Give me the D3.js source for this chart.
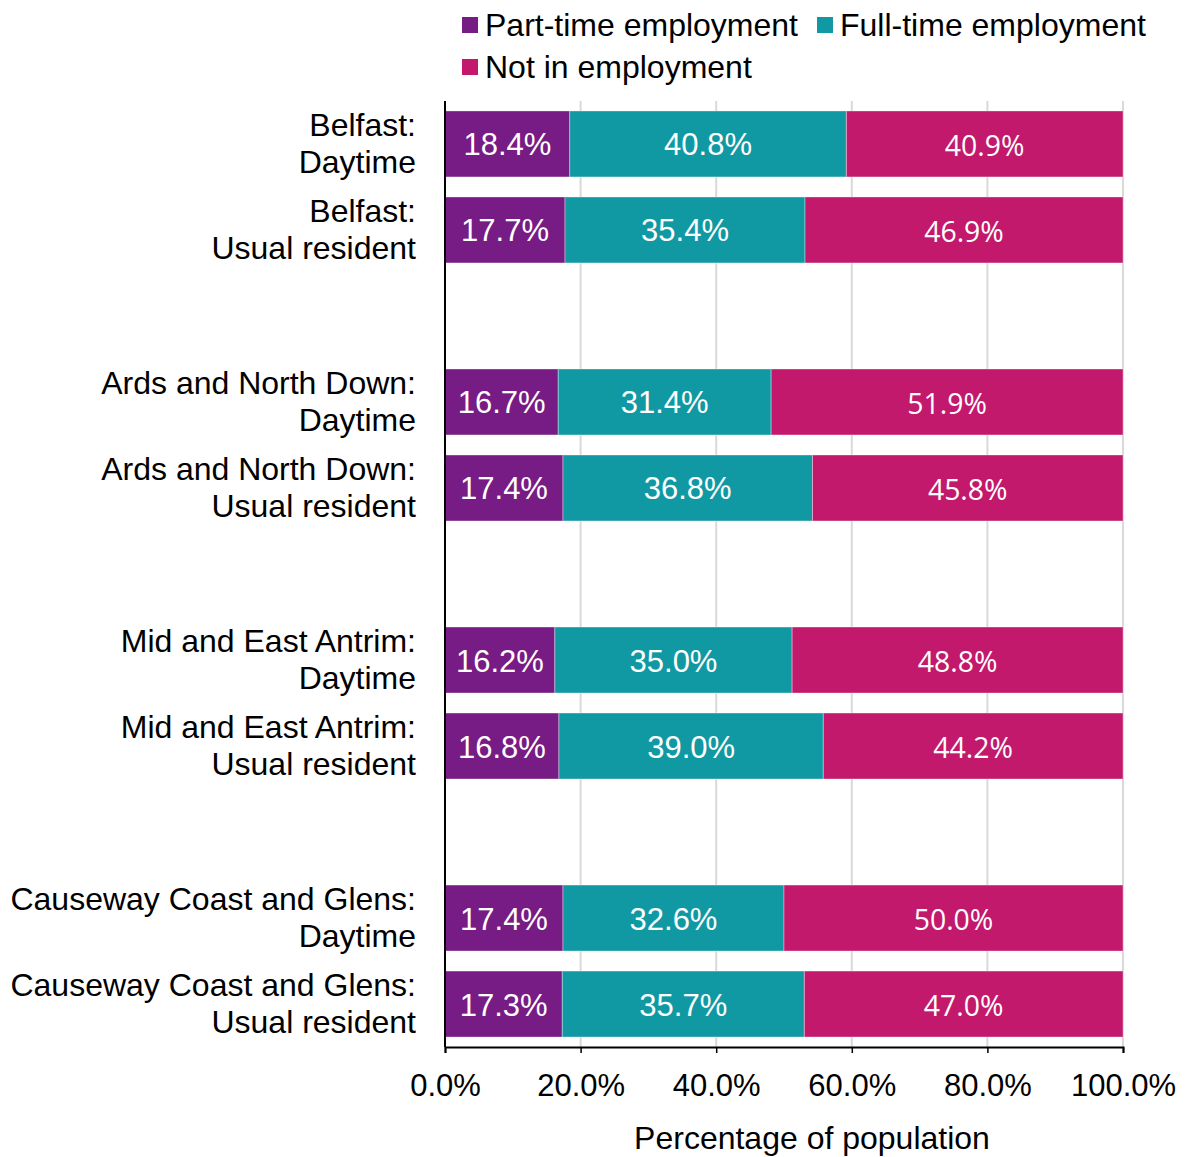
<!DOCTYPE html>
<html>
<head>
<meta charset="utf-8">
<script src="https://cdn.jsdelivr.net/npm/d3@7"></script>
<style>
  html, body { margin: 0; padding: 0; background: #fff; }
  svg { display: block; }
</style>
</head>
<body>
<svg id="chart" width="1186" height="1157"></svg>
<script>
const categories = [
  ["Belfast:", "Daytime"],
  ["Belfast:", "Usual resident"],
  ["Ards and North Down:", "Daytime"],
  ["Ards and North Down:", "Usual resident"],
  ["Mid and East Antrim:", "Daytime"],
  ["Mid and East Antrim:", "Usual resident"],
  ["Causeway Coast and Glens:", "Daytime"],
  ["Causeway Coast and Glens:", "Usual resident"]
];
const partTime    = [18.4, 17.7, 16.7, 17.4, 16.2, 16.8, 17.4, 17.3];
const fullTime    = [40.8, 35.4, 31.4, 36.8, 35.0, 39.0, 32.6, 35.7];
const notEmployed = [40.9, 46.9, 51.9, 45.8, 48.8, 44.2, 50.0, 47.0];
const seriesNames = ["Part-time employment", "Full-time employment", "Not in employment"];
const seriesColors = ["#771c84", "#1099a3", "#c2196d"];
const xTicks = [0, 20, 40, 60, 80, 100];
const xTitle = "Percentage of population";

// slot layout: groups of two bars separated by empty slots
const slotKeys = ["c0", "c1", "g1", "c2", "c3", "g2", "c4", "c5", "g3", "c6", "c7"];

const svg = d3.select("#chart");
const pLeft = 445, pRight = 1123, pTop = 101, pBottom = 1047;
const sansFont = "'Liberation Sans', Arial, sans-serif";

const x = d3.scaleLinear().domain([0, 100]).range([pLeft, pRight]).clamp(true);
const y = d3.scaleBand().domain(slotKeys).range([pTop, pBottom])
  .paddingInner(0.233).paddingOuter(0.116);

const rows = categories.map((c, i) => ({
  key: "c" + i, label: c,
  values: [partTime[i], fullTime[i], notEmployed[i]]
}));

// gridlines
svg.append("g").selectAll("line").data(xTicks.filter(t => t > 0)).join("line")
  .attr("x1", d => x(d)).attr("x2", d => x(d))
  .attr("y1", pTop).attr("y2", pBottom)
  .attr("stroke", "#d9d9d9").attr("stroke-width", 2);

// bars
const barG = svg.append("g");
rows.forEach(r => {
  let acc = 0;
  r.values.forEach((v, s) => {
    const x0 = acc, x1 = acc + v;
    acc = x1;
    barG.append("rect")
      .attr("x", x(x0)).attr("y", y(r.key))
      .attr("width", x(x1) - x(x0)).attr("height", y.bandwidth())
      .attr("fill", seriesColors[s])
      .attr("stroke", "rgba(255,255,255,0.35)").attr("stroke-width", 1);
    const cx = (x(x0) + x(x1)) / 2;
    barG.append("text")
      .attr("x", cx).attr("y", y(r.key) + y.bandwidth() / 2 + 1)
      .attr("text-anchor", "middle").attr("dominant-baseline", "central")
      .attr("fill", "#fff")
      .attr("font-family", s === 2 ? "'Open Sans', sans-serif" : sansFont)
      .attr("font-size", s === 2 ? 28.4 : 31)
      .text(d3.format(".1f")(v) + "%");
  });
});

// category labels
const catG = svg.append("g");
rows.forEach(r => {
  const cy = y(r.key) + y.bandwidth() / 2;
  r.label.forEach((line, li) => {
    catG.append("text")
      .attr("x", 416).attr("y", cy + (li === 0 ? -19 : 18))
      .attr("text-anchor", "end").attr("dominant-baseline", "central")
      .attr("font-family", sansFont)
      .attr("font-size", 32).attr("fill", "#000")
      .text(line);
  });
});

// y axis line
svg.append("line").attr("x1", pLeft).attr("x2", pLeft).attr("y1", pTop).attr("y2", pBottom)
  .attr("stroke", "#000").attr("stroke-width", 2);

// x axis
const xAxis = d3.axisBottom(x).tickValues(xTicks).tickSize(6).tickPadding(21)
  .tickFormat(d => d3.format(".1f")(d) + "%");
const xg = svg.append("g").attr("transform", `translate(0,${pBottom})`).call(xAxis);
xg.select(".domain").attr("stroke", "#000").attr("stroke-width", 2);
xg.selectAll(".tick line").attr("stroke", "#000").attr("stroke-width", 1.5);
xg.selectAll(".tick text")
  .attr("font-family", sansFont)
  .attr("font-size", 31).attr("fill", "#000");

svg.append("text").attr("x", 812).attr("y", 1138)
  .attr("text-anchor", "middle").attr("dominant-baseline", "central")
  .attr("font-family", sansFont)
  .attr("font-size", 32).attr("fill", "#000").text(xTitle);

// legend
const legendPos = [[462, 25], [817, 25], [462, 67]];
seriesNames.forEach((n, i) => {
  const [lx, ly] = legendPos[i];
  svg.append("rect").attr("x", lx).attr("y", ly - 8).attr("width", 16).attr("height", 16)
    .attr("fill", seriesColors[i]);
  svg.append("text").attr("x", lx + 23).attr("y", ly)
    .attr("dominant-baseline", "central")
    .attr("font-family", sansFont)
    .attr("font-size", 32).attr("fill", "#000").text(n);
});
</script>
</body>
</html>
